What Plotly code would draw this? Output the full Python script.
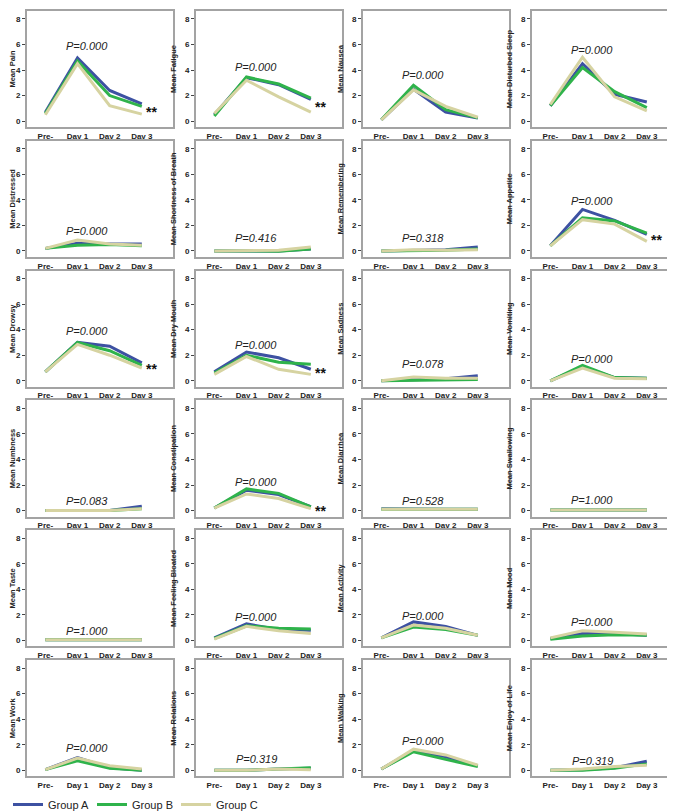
import plotly.graph_objects as go

categories = ["Pre-", "Day 1", "Day 2", "Day 3"]

symptoms = [
    "Pain", "Fatigue", "Nausea", "Disturbed Sleep",
    "Distressed", "Shortness of Breath", "Remembering", "Appetite",
    "Drowsy", "Dry Mouth", "Sadness", "Vomiting",
    "Numbness", "Constipation", "Diarrhea", "Swallowing",
    "Taste", "Feeling Bloated", "Activity", "Mood",
    "Work", "Relations", "Walking", "Enjoy of Life",
]

group_a = [
    [0.70, 4.95, 2.40, 1.35], [0.50, 3.40, 2.85, 1.70], [0.10, 2.50, 0.70, 0.25], [1.20, 4.50, 2.10, 1.50],
    [0.20, 0.60, 0.55, 0.55], [0.00, 0.00, 0.00, 0.15], [0.00, 0.05, 0.10, 0.30], [0.40, 3.25, 2.40, 1.30],
    [0.70, 3.00, 2.70, 1.40], [0.70, 2.25, 1.80, 0.90], [0.00, 0.10, 0.15, 0.40], [0.00, 1.10, 0.25, 0.20],
    [0.00, 0.00, 0.00, 0.35], [0.20, 1.60, 1.25, 0.30], [0.15, 0.10, 0.10, 0.10], [0.05, 0.05, 0.05, 0.05],
    [0.05, 0.05, 0.05, 0.05], [0.20, 1.30, 0.85, 0.80], [0.20, 1.45, 1.10, 0.40], [0.15, 0.55, 0.55, 0.40],
    [0.05, 1.00, 0.20, 0.00], [0.00, 0.00, 0.10, 0.15], [0.10, 1.55, 1.05, 0.35], [0.00, 0.05, 0.20, 0.70],
]

group_b = [
    [0.60, 4.70, 2.00, 1.15], [0.40, 3.45, 2.90, 1.80], [0.10, 2.80, 0.90, 0.25], [1.20, 4.20, 2.30, 1.05],
    [0.20, 0.45, 0.50, 0.40], [0.00, 0.00, -0.02, 0.15], [0.00, 0.00, 0.05, 0.15], [0.40, 2.60, 2.35, 1.40],
    [0.70, 3.00, 2.35, 1.20], [0.60, 2.00, 1.45, 1.30], [0.00, 0.05, 0.10, 0.10], [0.00, 1.20, 0.25, 0.20],
    [0.00, 0.00, 0.00, 0.15], [0.20, 1.70, 1.35, 0.30], [0.10, 0.10, 0.10, 0.10], [0.05, 0.05, 0.05, 0.05],
    [0.05, 0.05, 0.05, 0.05], [0.15, 1.15, 0.95, 0.90], [0.20, 1.05, 0.85, 0.40], [0.10, 0.35, 0.45, 0.40],
    [0.05, 0.75, 0.15, 0.00], [0.00, 0.00, 0.10, 0.20], [0.10, 1.45, 0.85, 0.30], [0.00, 0.00, 0.15, 0.50],
]

group_c = [
    [0.50, 4.50, 1.20, 0.55], [0.60, 3.20, 1.90, 0.70], [0.10, 2.45, 1.15, 0.30], [1.30, 5.00, 1.90, 0.80],
    [0.20, 0.85, 0.55, 0.45], [0.00, 0.05, 0.05, 0.30], [0.00, 0.10, 0.05, 0.10], [0.40, 2.45, 2.10, 0.75],
    [0.70, 2.85, 2.00, 1.00], [0.50, 1.90, 0.90, 0.50], [0.00, 0.30, 0.20, 0.20], [0.00, 1.00, 0.20, 0.15],
    [0.00, 0.00, 0.00, 0.15], [0.20, 1.30, 0.95, 0.15], [0.10, 0.10, 0.10, 0.10], [0.05, 0.05, 0.05, 0.05],
    [0.05, 0.05, 0.05, 0.05], [0.10, 1.10, 0.75, 0.55], [0.20, 1.20, 0.95, 0.40], [0.20, 0.75, 0.65, 0.50],
    [0.05, 0.95, 0.35, 0.10], [0.00, 0.00, 0.10, 0.05], [0.10, 1.65, 1.20, 0.40], [0.00, 0.10, 0.30, 0.40],
]

p_labels = [
    "P=0.000", "P=0.000", "P=0.000", "P=0.000",
    "P=0.000", "P=0.416", "P=0.318", "P=0.000",
    "P=0.000", "P=0.000", "P=0.078", "P=0.000",
    "P=0.083", "P=0.000", "P=0.528", "P=1.000",
    "P=1.000", "P=0.000", "P=0.000", "P=0.000",
    "P=0.000", "P=0.319", "P=0.000", "P=0.319",
]

p_label_y = [
    5.85, 4.25, 3.60, 5.60,
    1.55, 1.05, 1.05, 3.90,
    3.87, 2.80, 1.30, 1.70,
    0.75, 2.20, 0.75, 0.80,
    0.77, 1.80, 1.95, 1.45,
    1.75, 0.85, 2.30, 0.75,
]

significant = [
    True, True, False, False,
    False, False, False, True,
    True, True, False, False,
    False, True, False, False,
    False, False, False, False,
    False, False, False, False,
]

group_names = ["Group A", "Group B", "Group C"]
group_colors = ["#3D51A2", "#2FB34B", "#D6D3A1"]

W, H = 675, 811
col_left = [19, 188, 355, 524]
box_w = 146
row_top0 = 3
row_step = 130.8
box_h = 117

FONT = "Liberation Sans, Arial"

fig = go.Figure()
annotations = []
all_groups = [group_a, group_b, group_c]

for i, name in enumerate(symptoms):
    r, c = divmod(i, 4)
    idx = "" if i == 0 else str(i + 1)
    x0 = col_left[c]
    top = row_top0 + r * row_step
    xd = [x0 / W, (x0 + box_w) / W]
    yd = [1 - (top + box_h) / H, 1 - top / H]
    for g in range(3):
        fig.add_trace(go.Scatter(
            x=categories, y=all_groups[g][i], mode="lines",
            line=dict(color=group_colors[g], width=3),
            name=group_names[g], legendgroup=group_names[g],
            showlegend=(i == 0),
            xaxis="x" + idx, yaxis="y" + idx,
        ))
    fig.layout["xaxis" + idx] = dict(
        domain=xd, anchor="y" + idx, type="category", automargin=False,
        range=[-0.57, 3.97], showgrid=False, zeroline=False,
        showline=True, mirror=True, linecolor="#A3A3A3", linewidth=2,
        ticks="", tickfont=dict(family=FONT, size=8, color="#222", weight="bold"),
    )
    fig.layout["yaxis" + idx] = dict(
        domain=yd, anchor="x" + idx, automargin=False,
        range=[-0.47, 8.62], tickvals=[0, 2, 4, 6, 8],
        showgrid=False, zeroline=False,
        showline=True, mirror=True, linecolor="#A3A3A3", linewidth=2,
        ticks="outside", ticklen=3, tickwidth=1, tickcolor="#444",
        tickfont=dict(family=FONT, size=8, color="#222", weight="bold"),
        title=dict(text="Mean " + name, standoff=7,
                   font=dict(family=FONT, size=7.5, color="#222", weight="bold")),
    )
    annotations.append(dict(
        x=1.3, y=p_label_y[i], xref="x" + idx, yref="y" + idx,
        text=p_labels[i], showarrow=False,
        font=dict(family=FONT, size=11, color="#222", style="italic"),
    ))
    if significant[i]:
        ymean = sum(g_[i][3] for g_ in all_groups) / 3
        annotations.append(dict(
            x=3.08, y=ymean, xref="x" + idx, yref="y" + idx, xanchor="left",
            text="**", showarrow=False, yshift=-4,
            font=dict(family=FONT, size=14, color="#111", weight="bold"),
        ))

fig.update_layout(
    width=W, height=H,
    margin=dict(l=0, r=0, t=0, b=0),
    paper_bgcolor="white", plot_bgcolor="white",
    annotations=annotations,
    showlegend=True,
    legend=dict(
        orientation="h", x=0.0, xanchor="left", y=0.01, yanchor="middle",
        font=dict(family=FONT, size=11, color="#222"),
        itemwidth=30,
        entrywidth=39, entrywidthmode="pixels",
        bgcolor="rgba(0,0,0,0)",
    ),
)

fig.write_html("out.html")
